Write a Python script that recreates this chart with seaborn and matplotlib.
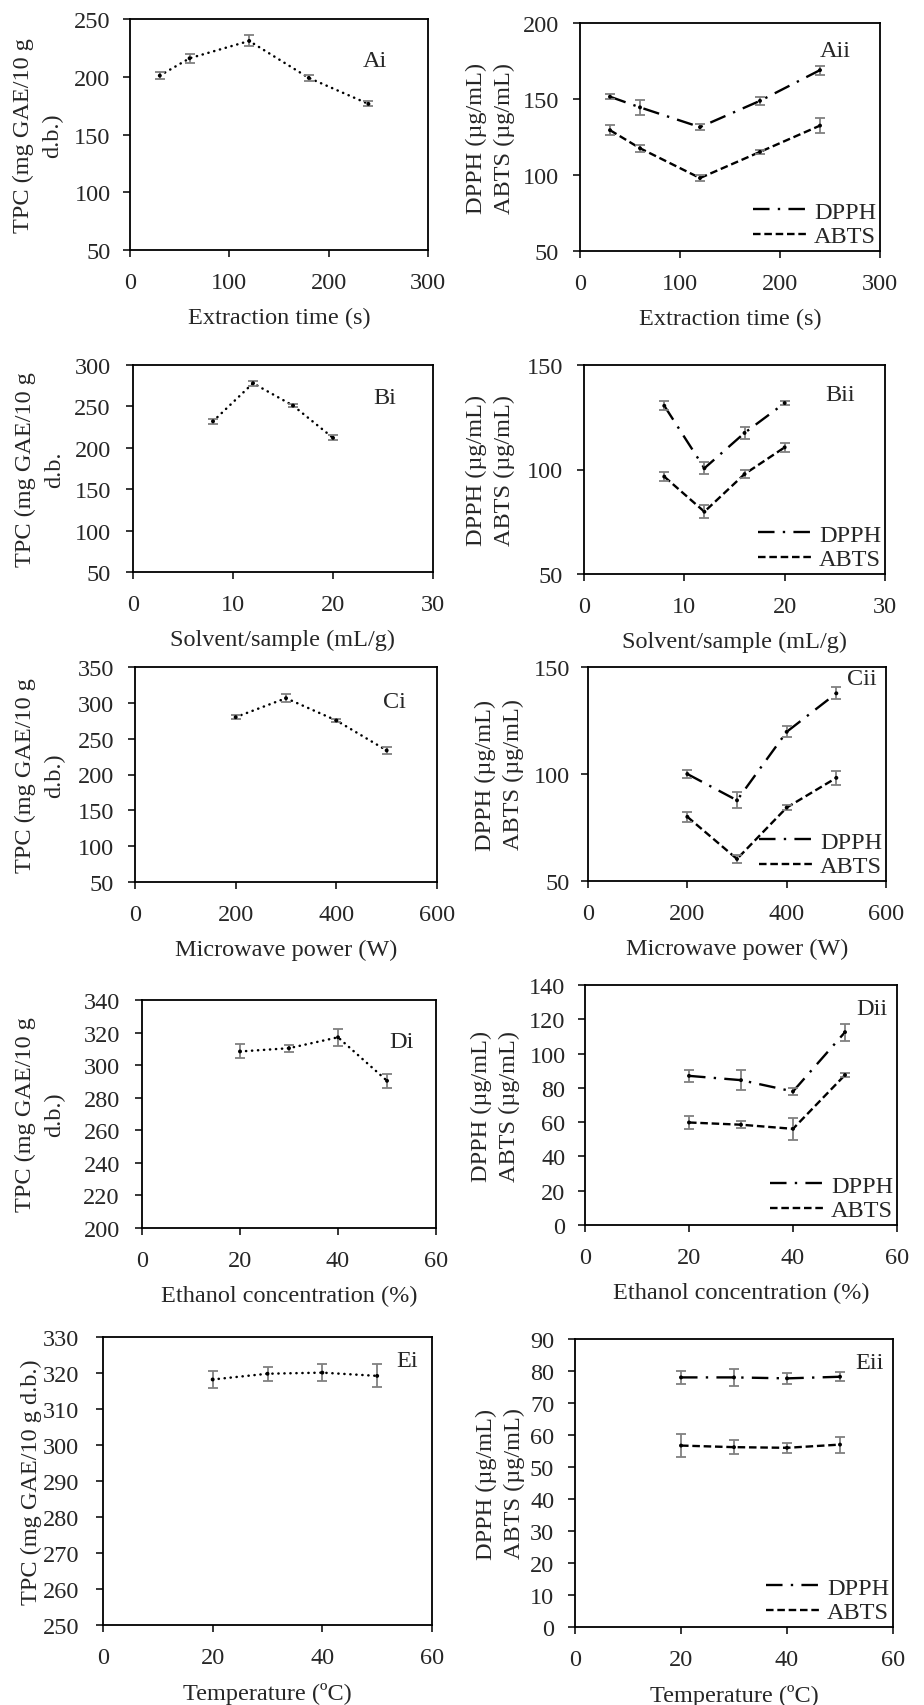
import matplotlib
matplotlib.use('Agg')
import matplotlib.pyplot as plt
import seaborn as sns

sns.set_style('ticks')
plt.rcParams['font.family'] = ['Liberation Serif', 'DejaVu Serif']
FS = 17.5
plt.rcParams['font.size'] = FS

# ---- data ----
time_s = [30, 60, 120, 180, 240]
tpc_a = [201, 216, 231, 199, 176.5]
tpc_a_sd = [2.9, 4, 4.8, 2.6, 2.2]
dpph_a = [151.5, 144.5, 131.5, 148.8, 169]
dpph_a_sd = [1.5, 5, 2.2, 2.5, 2.9]
abts_a = [129.5, 117.6, 98, 115.2, 132.5]
abts_a_sd = [3.3, 2.3, 1.9, 1.4, 5]

ratio = [8, 12, 16, 20]
tpc_b = [232, 278, 251, 212]
tpc_b_sd = [3, 3, 2, 3]
dpph_b = [130.5, 100.6, 117.5, 131.8]
dpph_b_sd = [2.2, 2.8, 3, 1.1]
abts_b = [96.6, 79.8, 97.8, 110.6]
abts_b_sd = [2.2, 3, 2, 2.2]

power = [200, 300, 400, 500]
tpc_c = [280, 306.5, 275.4, 233.6]
tpc_c_sd = [3, 5.8, 2, 4.9]
dpph_c = [100, 87.7, 119.7, 137.7]
dpph_c_sd = [2.1, 3.7, 2.6, 2.8]
abts_c = [80, 60.3, 84.3, 98.2]
abts_c_sd = [2.4, 2, 1.2, 3.2]

ethanol = [20, 30, 40, 50]
tpc_d = [308.4, 310.4, 317.1, 290.4]
tpc_d_sd = [4.3, 2.1, 5.4, 4.2]
dpph_d = [87, 84.5, 77.9, 112.5]
dpph_d_sd = [3.7, 5.7, 1.8, 4.9]
abts_d = [59.8, 58.5, 56.1, 87.5]
abts_d_sd = [3.7, 1.9, 6.6, 1.2]

temp = [20, 30, 40, 50]
tpc_e = [318.2, 319.8, 320.1, 319.2]
tpc_e_sd = [2.4, 2, 2.4, 3.2]
dpph_e = [78, 78, 77.7, 78.2]
dpph_e_sd = [2.1, 2.7, 1.7, 1.4]
abts_e = [56.7, 56.2, 56, 57]
abts_e_sd = [3.5, 2.2, 1.6, 2.5]

W, H = 924, 1706
fig = plt.figure(figsize=(W / 100, H / 100), dpi=100)

def box(l, t, r, b):
    return [l / W, 1 - b / H, (r - l) / W, (b - t) / H]

ERR = dict(fmt='none', ecolor='#808080', elinewidth=1.3, capsize=3.5, capthick=1.3)
DOT = (0, (0.1, 2.3))
DASHDOT = (0, (7, 3.5, 1, 3.5))
DASH = (0, (3.2, 1.6))

def style(ax, xlim, xticks, ylim, yticks, xlabel, ylabel, ylab_x, ypad, tag, tag_xy, lsp=1.45):
    ax.set_xlim(*xlim)
    ax.set_ylim(*ylim)
    ax.set_xticks(xticks)
    ax.set_yticks(yticks)
    for s in ax.spines.values():
        s.set_visible(True)
        s.set_color('black')
        s.set_linewidth(1.3)
    ax.tick_params(axis='both', direction='out', length=5, width=1.1, color='black', labelsize=FS)
    ax.tick_params(axis='x', pad=11)
    ax.tick_params(axis='y', pad=ypad)
    ax.set_xlabel(xlabel, fontsize=FS, labelpad=10)
    ax.set_ylabel(ylabel, fontsize=FS, linespacing=lsp)
    ax.yaxis.set_label_coords(ylab_x, 0.5)
    ax.text(tag_xy[0], tag_xy[1], tag, transform=ax.transAxes, fontsize=FS, va='center', ha='left')

def tpc_panel(rect, x, y, sd, **kw):
    ax = fig.add_axes(rect)
    sns.lineplot(x=x, y=y, ax=ax, color='black', linestyle=DOT, linewidth=1.8,
                 dash_capstyle='round')
    ax.errorbar(x, y, yerr=sd, **ERR)
    sns.scatterplot(x=x, y=y, ax=ax, color='black', s=8, edgecolor='none', zorder=5)
    style(ax, lsp=1.5, **kw)
    return ax

def anti_panel(rect, x, y1, sd1, y2, sd2, **kw):
    ax = fig.add_axes(rect)
    sns.lineplot(x=x, y=y1, ax=ax, color='black', linestyle=DASHDOT, linewidth=1.7, label='DPPH')
    sns.lineplot(x=x, y=y2, ax=ax, color='black', linestyle=DASH, linewidth=1.7, label='ABTS')
    ax.errorbar(x, y1, yerr=sd1, **ERR)
    ax.errorbar(x, y2, yerr=sd2, **ERR)
    sns.scatterplot(x=x, y=y1, ax=ax, color='black', s=8, edgecolor='none', zorder=5)
    sns.scatterplot(x=x, y=y2, ax=ax, color='black', s=8, edgecolor='none', zorder=5)
    style(ax, lsp=1.4, **kw)
    ax.legend(loc='lower right', bbox_to_anchor=(1.0, 0.0), frameon=False, fontsize=FS,
              handlelength=2.3, handletextpad=0.2, labelspacing=0.1, borderaxespad=0.1,
              borderpad=0.05)
    return ax

tpc_lab = 'TPC (mg GAE/10 g\nd.b.)'
anti_lab = 'DPPH (µg/mL)\nABTS (µg/mL)'

tpc_panel(box(130, 20, 428, 251), time_s, tpc_a, tpc_a_sd,
          xlim=(0, 300), xticks=[0, 100, 200, 300], ylim=(50, 250), yticks=range(50, 251, 50),
          xlabel='Extraction time (s)', ylabel=tpc_lab, ylab_x=-0.225, ypad=9,
          tag='Ai', tag_xy=(0.78, 0.82))
anti_panel(box(580, 24, 880, 252), time_s, dpph_a, dpph_a_sd, abts_a, abts_a_sd,
           xlim=(0, 300), xticks=[0, 100, 200, 300], ylim=(50, 200), yticks=range(50, 201, 50),
           xlabel='Extraction time (s)', ylabel=anti_lab, ylab_x=-0.217, ypad=10,
           tag='Aii', tag_xy=(0.80, 0.88))

tpc_panel(box(133, 366, 433, 573), ratio, tpc_b, tpc_b_sd,
          xlim=(0, 30), xticks=[0, 10, 20, 30], ylim=(50, 300), yticks=range(50, 301, 50),
          xlabel='Solvent/sample (mL/g)', ylabel='TPC (mg GAE/10 g\nd.b.', ylab_x=-0.227, ypad=11,
          tag='Bi', tag_xy=(0.80, 0.845))
anti_panel(box(584, 366, 885, 575), ratio, dpph_b, dpph_b_sd, abts_b, abts_b_sd,
           xlim=(0, 30), xticks=[0, 10, 20, 30], ylim=(50, 150), yticks=range(50, 151, 50),
           xlabel='Solvent/sample (mL/g)', ylabel=anti_lab, ylab_x=-0.229, ypad=10,
           tag='Bii', tag_xy=(0.80, 0.86))

tpc_panel(box(135, 668, 437, 883), power, tpc_c, tpc_c_sd,
          xlim=(0, 600), xticks=[0, 200, 400, 600], ylim=(50, 350), yticks=range(50, 351, 50),
          xlabel='Microwave power (W)', ylabel=tpc_lab, ylab_x=-0.232, ypad=10,
          tag='Ci', tag_xy=(0.82, 0.84))
anti_panel(box(588, 668, 886, 882), power, dpph_c, dpph_c_sd, abts_c, abts_c_sd,
           xlim=(0, 600), xticks=[0, 200, 400, 600], ylim=(50, 150), yticks=range(50, 151, 50),
           xlabel='Microwave power (W)', ylabel=anti_lab, ylab_x=-0.215, ypad=8,
           tag='Cii', tag_xy=(0.87, 0.944))

tpc_panel(box(142, 1001, 436, 1229), ethanol, tpc_d, tpc_d_sd,
          xlim=(0, 60), xticks=[0, 20, 40, 60], ylim=(200, 340), yticks=range(200, 341, 20),
          xlabel='Ethanol concentration (%)', ylabel=tpc_lab, ylab_x=-0.262, ypad=11,
          tag='Di', tag_xy=(0.84, 0.82))
anti_panel(box(585, 986, 897, 1226), ethanol, dpph_d, dpph_d_sd, abts_d, abts_d_sd,
           xlim=(0, 60), xticks=[0, 20, 40, 60], ylim=(0, 140), yticks=range(0, 141, 20),
           xlabel='Ethanol concentration (%)', ylabel=anti_lab, ylab_x=-0.208, ypad=9,
           tag='Dii', tag_xy=(0.87, 0.90))

tpc_panel(box(103, 1338, 432, 1626), temp, tpc_e, tpc_e_sd,
          xlim=(0, 60), xticks=[0, 20, 40, 60], ylim=(250, 330), yticks=range(250, 331, 10),
          xlabel='Temperature (ºC)', ylabel='TPC (mg GAE/10 g d.b.)', ylab_x=-0.185, ypad=12,
          tag='Ei', tag_xy=(0.89, 0.917))
anti_panel(box(575, 1340, 893, 1628), temp, dpph_e, dpph_e_sd, abts_e, abts_e_sd,
           xlim=(0, 60), xticks=[0, 20, 40, 60], ylim=(0, 90), yticks=range(0, 91, 10),
           xlabel='Temperature (ºC)', ylabel=anti_lab, ylab_x=-0.157, ypad=10,
           tag='Eii', tag_xy=(0.88, 0.92))

fig.savefig('out.png', dpi=100, facecolor='white')
